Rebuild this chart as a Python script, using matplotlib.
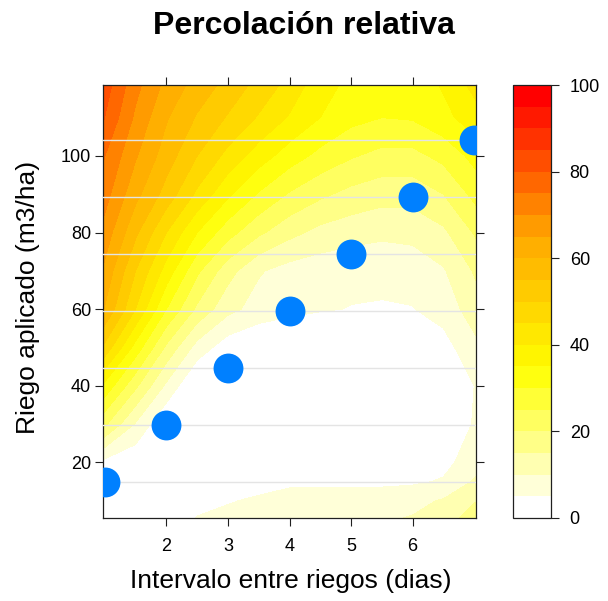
import numpy as np
import matplotlib
matplotlib.use("Agg")
import matplotlib.pyplot as plt
from matplotlib.colors import LinearSegmentedColormap, ListedColormap, BoundaryNorm
from matplotlib.cm import ScalarMappable
from matplotlib.ticker import NullLocator

plt.rcParams['font.family'] = ['Liberation Sans', 'DejaVu Sans']

# ---------------- data ----------------
title = "Percolación relativa"
x_label = "Intervalo entre riegos (dias)"
y_label = "Riego aplicado (m3/ha)"

# recommended combinations (blue points)
interval_days = [1, 2, 3, 4, 5, 6, 7]
riego_applied = [14.9, 29.7, 44.6, 59.5, 74.3, 89.2, 104.1]

# surface of relative percolation (%)
grid_interval = [0.95, 1.5, 2.0, 2.5, 3.0, 3.5, 4.0, 4.5, 5.0, 5.5, 6.0, 6.5, 7.05]
grid_riego = [5, 10, 15, 20, 30, 40, 50, 60, 70, 80, 90, 100, 110, 120]
percolation = [
    [0, 0, 2, 5.5, 7, 8.5, 9, 9.5, 9.5, 9.5, 10.5, 13, 18],            # 5
    [0, -1, 0, 3, 4.5, 6, 7, 7.5, 7.5, 7.5, 8.5, 10.5, 15],           # 10
    [1, -1, -2, -2, 0, 2.5, 4, 4, 4, 4, 4.2, 5.5, 11],                # 15
    [4, 1, -1, -2, -2, -2, -2, -2, -2, -2, -1, 3.5, 8],               # 20
    [22, 9.5, 0, -3, -4, -4, -4, -4, -4, -4, -3, 0, 6],               # 30
    [35, 21, 9, -1, -4, -5, -5, -5, -5, -5, -3.5, 0, 5.5],            # 40
    [50, 33, 19, 8, 2, 0, -1, -2, -2, -2, -1, 3, 9],                  # 50
    [61, 45, 30, 19, 11.5, 8, 6.5, 5.5, 4.8, 4.5, 4.8, 7, 13],        # 60
    [65, 50, 38, 26, 17, 10.5, 8, 7, 6.5, 6.5, 7, 9.5, 16],           # 70
    [69, 56, 45, 35, 27, 21, 16.5, 13.5, 12, 11, 11.5, 14, 21],       # 80
    [73, 61.5, 53, 44, 36, 29.5, 24.5, 21, 18.5, 17, 17, 20, 27],     # 90
    [76, 65.5, 57.5, 50, 43.5, 37.5, 32.5, 28.5, 25.5, 23.5, 23.5, 26.5, 32],  # 100
    [81, 69, 60.5, 54.5, 49.5, 44.5, 39.5, 35, 31.5, 30, 30.5, 33.5, 38],      # 110
    [84, 72, 64, 58.5, 54, 49, 44, 37.5, 34, 32, 32, 36, 43],         # 120
]

x_ticks = [2, 3, 4, 5, 6]
y_ticks = [20, 40, 60, 80, 100]
cbar_ticks = [0, 20, 40, 60, 80, 100]
levels = list(range(0, 105, 5))

# ---------------- colours ----------------
ramp = LinearSegmentedColormap.from_list("ramp", ["#FFFFFF", "#FFFF00", "#FFA500", "#FF0000"])
band_colors = [ramp(i / 19) for i in range(20)]
cmap = ListedColormap(band_colors)
norm = BoundaryNorm(levels, cmap.N)

# ---------------- figure ----------------
W, H = 608, 601
fig = plt.figure(figsize=(W / 100, H / 100), dpi=100)

def frac(l, t, r, b):
    return [l / W, 1 - b / H, (r - l) / W, (b - t) / H]

ax = fig.add_axes(frac(103, 85, 476, 518))
X, Y = np.meshgrid(grid_interval, grid_riego)
Z = np.array(percolation, dtype=float)
fill_levels = [-100] + levels[1:]
ax.contourf(X, Y, Z, levels=fill_levels, colors=band_colors, antialiased=False)

for r in riego_applied:
    ax.axhline(r, color="#E4E4E4", lw=1.0, zorder=3)

ax.plot(interval_days, riego_applied, "o", ms=21.5, color="#0080FF",
        mec="none", zorder=5, clip_on=True)

ax.set_xlim(0.97, 7.03)
ax.set_ylim(5.5, 118.5)
ax.set_xticks(x_ticks)
ax.set_yticks(y_ticks)
ax.tick_params(axis="both", which="both", direction="out", length=5.5, width=0.8,
               top=True, right=True, labeltop=False, labelright=False,
               labelsize=13, colors="#202020", labelcolor="black")
ax.tick_params(axis="x", pad=9)
ax.tick_params(axis="y", pad=3)
for s in ax.spines.values():
    s.set_linewidth(0.9)
    s.set_color("#202020")

# colour key
cax = fig.add_axes(frac(513, 85, 551, 518))
sm = ScalarMappable(norm=norm, cmap=cmap)
cb = fig.colorbar(sm, cax=cax, ticks=cbar_ticks)
cax.yaxis.set_minor_locator(NullLocator())
cb.outline.set_linewidth(0.9)
cb.outline.set_edgecolor("#202020")
cax.tick_params(which="both", direction="out", length=5.5, width=0.8, labelsize=13, pad=8,
                colors="#202020", labelcolor="black")
cax.tick_params(which="minor", length=0)

fig.text(304 / W, 1 - 26 / H, title, ha="center", va="center",
         fontsize=23, fontweight="bold")
fig.text(291 / W, 1 - 581 / H, x_label, ha="center", va="center", fontsize=19)
fig.text(28 / W, 1 - 297 / H, y_label, ha="center", va="center",
         fontsize=19, rotation=90)

fig.savefig("out.png", dpi=100)
